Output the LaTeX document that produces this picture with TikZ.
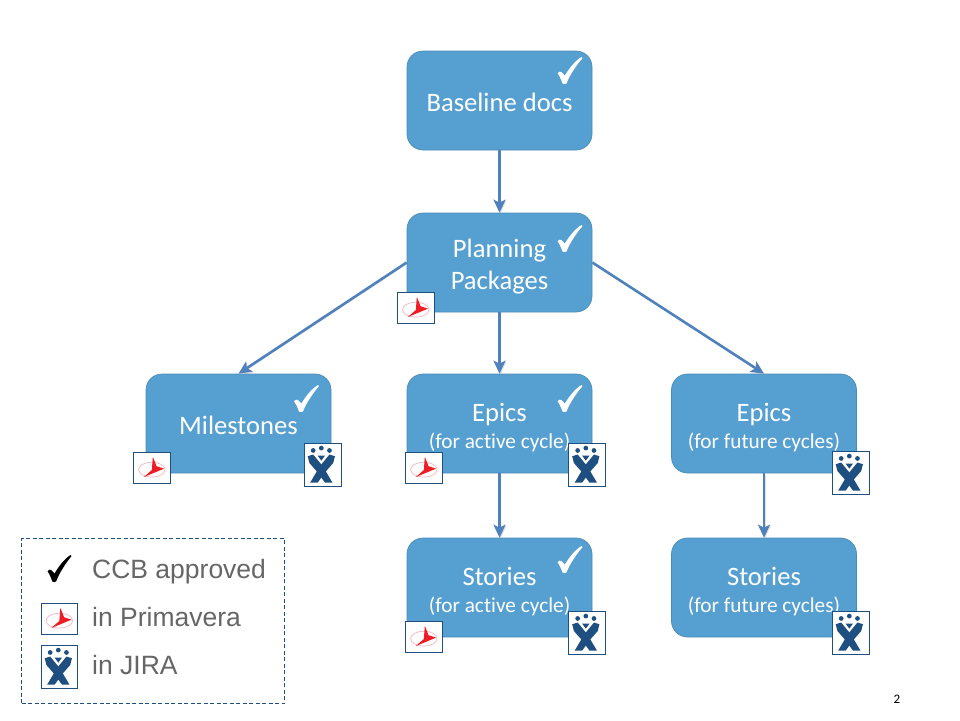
\documentclass[tikz,border=0pt]{standalone}
\usepackage{fontspec}
\setmainfont{Carlito}[RawFeature={-liga}]
\newfontfamily\legendfont{Liberation Sans}
\usetikzlibrary{arrows.meta}
\definecolor{boxfill}{HTML}{559FD1}
\definecolor{boxline}{HTML}{4A8DB8}
\definecolor{arrowcol}{HTML}{4F81BD}
\definecolor{framecol}{HTML}{1F4E80}
\definecolor{legtext}{HTML}{666666}
\definecolor{primred}{HTML}{EE1C25}
\definecolor{primpink}{HTML}{F2B5C0}
\newcommand{\smalltwo}[1]{{\fontsize{21.3}{23}\selectfont #1}}
\newcommand{\lowerone}{\rule{0pt}{22pt}}
\newcommand{\lowertwo}{\rule{0pt}{27pt}}
\newcommand{\lowerplan}{\rule{0pt}{26pt}}
\newcommand{\checkshape}{%
    \fill (0,.6) .. controls (.05,.55) and (.12,.52) .. (.15,.55)
      .. controls (.2,.58) and (.25,.65) .. (.29,.69)
      .. controls (.48,.4) and (.72,.13) .. (.96,0)
      -- (1,.04)
      .. controls (.78,.28) and (.5,.64) .. (.36,.98)
      .. controls (.32,1.01) and (.25,1.01) .. (.2,.98)
      .. controls (.15,.85) and (.08,.7) .. (0,.6) -- cycle;}
\tikzset{
  flowbox/.style={draw=boxline,line width=.7pt,fill=boxfill,rounded corners=16pt,
    minimum width=185pt,minimum height=99pt,inner sep=0pt,text=white,align=center,
    font=\fontsize{26.6}{32}\selectfont},
  flowarrow/.style={draw=arrowcol,line width=2.6pt,
    -{Stealth[length=13pt,width=12pt,inset=3pt]},
    preaction={draw=black!35,opacity=.35,transform canvas={shift={(.8pt,-1.2pt)}}}},
  legendlabel/.style={anchor=base west,text=legtext,inner sep=0pt,font=\legendfont\fontsize{26.5}{30}\selectfont},
  whitecheck/.pic={\begin{scope}[x=25pt,y=-27pt,white]\checkshape\end{scope}},
  blackcheck/.pic={\begin{scope}[x=24pt,y=-27pt,black]\checkshape\end{scope}},
  primicon/.pic={
    \begin{scope}[x=.3394pt,y=-.3394pt]
      \filldraw[fill=white,draw=framecol,line width=1pt] (0,0) rectangle (109,93);
      \draw[primpink,line width=.7pt] (54,52) ellipse [x radius=39,y radius=22];
      \fill[primred] (57,14) -- (68,42) -- (90,49) -- (30,74) -- (54,53) -- cycle;
    \end{scope}
  },
  jiraicon/.pic={
    \begin{scope}[x=.3394pt,y=-.3394pt]
      \filldraw[fill=white,draw=framecol,line width=1pt] (0,0) rectangle (109,129);
      \fill[framecol] (27,22) circle [radius=7] (51,15) circle [radius=7] (75,22) circle [radius=7];
      \fill[framecol] (40,37) -- (62,37) -- (51,52) -- cycle;
      \fill[framecol] (11,39) -- (27,34) -- (55,68) -- (84,117) -- (62,117) -- (38,84) -- (16,59) -- cycle;
      \fill[framecol] (91,39) -- (75,34) -- (47,68) -- (18,117) -- (40,117) -- (64,84) -- (86,59) -- cycle;
    \end{scope}
  }
}
\begin{document}
\begin{tikzpicture}[x=1pt,y=-1pt]
\useasboundingbox (0,0) rectangle (960,720);
% boxes
\node[flowbox] (base) at (499.5,100.5) {\lowerone Baseline docs};
\node[flowbox] (plan) at (499.5,262.5) {\lowerplan Planning\\Packages};
\node[flowbox] (miles) at (238.5,423.5) {\lowerone Milestones};
\node[flowbox] (epa) at (499.5,423.5) {\lowertwo Epics\\[-5pt]\smalltwo{(for active cycle)}};
\node[flowbox] (epf) at (764,423.5) {\lowertwo Epics\\[-5pt]\smalltwo{(for future cycles)}};
\node[flowbox] (sta) at (499.5,587.5) {\lowertwo Stories\\[-5pt]\smalltwo{(for active cycle)}};
\node[flowbox] (stf) at (764,587.5) {\lowertwo Stories\\[-5pt]\smalltwo{(for future cycles)}};
% connectors
\draw[flowarrow] (base) -- (plan);
\draw[flowarrow] (plan.west) -- (miles.north);
\draw[flowarrow] (plan) -- (epa);
\draw[flowarrow] (plan.east) -- (epf.north);
\draw[flowarrow] (epa) -- (sta);
\draw[flowarrow] (epf) -- (stf);
% checks
\pic at (557.5,57) {whitecheck};
\pic at (557.5,225) {whitecheck};
\pic at (294,385) {whitecheck};
\pic at (557.5,385) {whitecheck};
\pic at (557.5,546) {whitecheck};
% icons
\pic at (397.5,292) {primicon};
\pic at (133.5,452) {primicon};
\pic at (405.5,452) {primicon};
\pic at (405.5,621) {primicon};
\pic at (304,443) {jiraicon};
\pic at (568.5,443) {jiraicon};
\pic at (832,451) {jiraicon};
\pic at (568.5,611) {jiraicon};
\pic at (832,611) {jiraicon};
% legend
\node[draw=framecol,dash pattern=on 4pt off 2.5pt,line width=.7pt,minimum width=263pt,minimum height=165pt,inner sep=0pt] (legend) at (153,621) {};
\pic at (47.5,555) {blackcheck};
\pic at (41,603) {primicon};
\pic at (41,645) {jiraicon};
\node[legendlabel] (l1) at (92,578) {CCB approved};
\node[legendlabel] (l2) at (92,626) {in Primavera};
\node[legendlabel] (l3) at (92,674) {in JIRA};
\node[font=\fontsize{13}{15}\selectfont,inner sep=0pt] (pnum) at (897,699) {2};
\end{tikzpicture}
\end{document}
